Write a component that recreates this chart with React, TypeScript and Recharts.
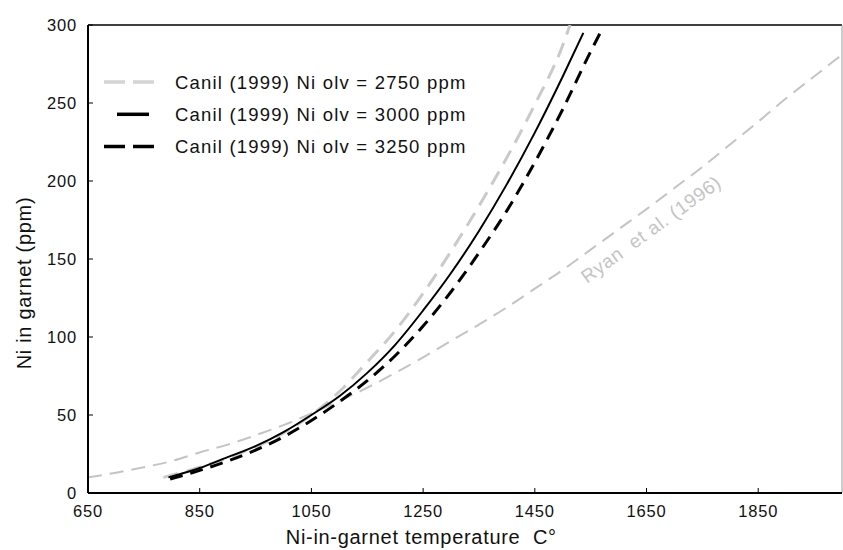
import React from "react";
import {
  Legend,
  Line,
  LineChart,
  ReferenceDot,
  ReferenceLine,
  XAxis,
  YAxis,
} from "recharts";

const FONT = '"Liberation Sans", Arial, Helvetica, sans-serif';

// Ni-in-garnet temperature (°C) vs Ni in garnet (ppm)
const RYAN_T = [
  650, 700, 750, 800, 850, 900, 950, 1000, 1050, 1100, 1150, 1200, 1250, 1300,
  1350, 1400, 1450, 1500, 1550, 1600, 1650, 1700, 1750, 1800, 1850, 1900, 1950, 2000,
];
const RYAN_NI = [
  10, 13, 16.5, 20.5, 26, 31, 37, 43.5, 51, 59, 67.5, 77, 87, 97.5, 108, 119, 131,
  143, 156, 169, 182, 195.5, 209, 223.5, 238, 253, 267, 281,
];

const CANIL_2750_T = [785, 850, 900, 950, 1000, 1050, 1100, 1150, 1200, 1250, 1300, 1350, 1400, 1450, 1500, 1513];
const CANIL_2750_NI = [10, 16.5, 22.5, 29.5, 38.5, 50, 65, 84, 104, 128, 155, 184, 215, 249, 287, 300];

const CANIL_3000_T = [794, 850, 900, 950, 1000, 1050, 1100, 1150, 1200, 1250, 1300, 1350, 1400, 1450, 1500, 1537];
const CANIL_3000_NI = [10, 16, 23, 30, 39, 50, 62, 77, 95, 117, 141, 168, 198, 231, 267, 295];

const CANIL_3250_T = [797, 850, 900, 950, 1000, 1050, 1100, 1150, 1200, 1250, 1300, 1350, 1400, 1450, 1500, 1550, 1570];
const CANIL_3250_NI = [9, 14.5, 20.5, 27.5, 36, 46.5, 58.5, 72, 88, 107, 129, 154, 181, 212, 246, 283, 297];

const X_TICKS = [650, 850, 1050, 1250, 1450, 1650, 1850];
const Y_TICKS = [0, 50, 100, 150, 200, 250, 300];

const toPoints = (ts: number[], nis: number[]) => ts.map((t, i) => ({ t, ni: nis[i] }));

const SERIES = [
  {
    key: "c2750",
    name: "Canil (1999) Ni olv = 2750 ppm",
    data: toPoints(CANIL_2750_T, CANIL_2750_NI),
    color: "#cacaca",
    width: 3,
    dash: "15 9",
    legendDash: "21 8",
  },
  {
    key: "c3000",
    name: "Canil (1999) Ni olv = 3000 ppm",
    data: toPoints(CANIL_3000_T, CANIL_3000_NI),
    color: "#000",
    width: 2,
    dash: undefined,
    legendDash: undefined,
  },
  {
    key: "c3250",
    name: "Canil (1999) Ni olv = 3250 ppm",
    data: toPoints(CANIL_3250_T, CANIL_3250_NI),
    color: "#000",
    width: 3,
    dash: "13 8",
    legendDash: "21 8",
  },
];

const ryanData = toPoints(RYAN_T, RYAN_NI);

const LegendBox = () => (
  <svg width={400} height={100}>
    {SERIES.map((s, i) => {
      const y = 16 + i * 32.3;
      const solid = !s.legendDash;
      return (
        <g key={s.key}>
          <line
            x1={solid ? 17 : 4}
            x2={solid ? 49 : 54}
            y1={y}
            y2={y}
            stroke={s.key === "c2750" ? "#d4d4d4" : s.color}
            strokeWidth={3.5}
            strokeDasharray={s.legendDash}
          />
          <text
            x={75}
            y={y}
            dominantBaseline="central"
            fontSize={18.5}
            fontFamily={FONT}
            style={{ letterSpacing: 1.2 }}
            fill="#111"
          >
            {s.name}
          </text>
        </g>
      );
    })}
  </svg>
);

const XTitle = ({ viewBox }: any) => (
  <text
    x={viewBox.x + viewBox.width * 0.442}
    y={viewBox.y + 51}
    textAnchor="middle"
    fontSize={20}
    fontFamily={FONT}
    style={{ letterSpacing: 0.7, whiteSpace: "pre" }}
    fill="#111"
  >
    {"Ni-in-garnet temperature  C°"}
  </text>
);

const YTitle = ({ viewBox }: any) => {
  const cx = 24;
  const cy = viewBox.y + viewBox.height / 2 + 24;
  return (
    <text
      x={cx}
      y={cy}
      transform={`rotate(-90 ${cx} ${cy})`}
      textAnchor="middle"
      dominantBaseline="central"
      fontSize={20}
      fontFamily={FONT}
      style={{ letterSpacing: 0.7 }}
      fill="#111"
    >
      Ni in garnet (ppm)
    </text>
  );
};

const RyanLabel = ({ viewBox }: any) => {
  const cx = viewBox.x + viewBox.width / 2;
  const cy = viewBox.y + viewBox.height / 2;
  return (
    <text
      x={cx}
      y={cy}
      transform={`rotate(-36 ${cx} ${cy})`}
      textAnchor="middle"
      dominantBaseline="central"
      fontSize={19}
      fontFamily={FONT}
      style={{ letterSpacing: 0.6, whiteSpace: "pre" }}
      fill="#c4c4c4"
    >
      {"Ryan  et al. (1996)"}
    </text>
  );
};

const tickStyle = { fontSize: 16.5, fill: "#111", fontFamily: FONT, letterSpacing: 0.8 };

export default function App() {
  return (
    <div style={{ position: "absolute", left: 0, top: 0, width: 843, height: 550, background: "#fff" }}>
      <LineChart width={843} height={550} margin={{ top: 25, right: 1, bottom: 0, left: 0 }}>
        <XAxis
          type="number"
          dataKey="t"
          domain={[650, 2000]}
          ticks={X_TICKS}
          allowDataOverflow
          height={57}
          tickSize={-5}
          tickMargin={17}
          tick={tickStyle}
          axisLine={{ stroke: "#000", strokeWidth: 2 }}
          tickLine={{ stroke: "#000", strokeWidth: 1 }}
          label={{ content: XTitle }}
        />
        <YAxis
          type="number"
          domain={[0, 300]}
          ticks={Y_TICKS}
          allowDataOverflow
          width={88}
          tickSize={-5}
          tickMargin={16}
          tick={tickStyle}
          axisLine={{ stroke: "#000", strokeWidth: 2 }}
          tickLine={{ stroke: "#000", strokeWidth: 1 }}
          label={{ content: YTitle }}
        />
        <ReferenceLine y={300} stroke="#000" strokeWidth={1.5} />
        <ReferenceLine x={2000} stroke="#999" strokeWidth={1} />
        <Line
          data={ryanData}
          dataKey="ni"
          name="Ryan et al. (1996)"
          type="monotone"
          stroke="#c4c4c4"
          strokeWidth={2}
          strokeDasharray="14 8"
          dot={false}
          legendType="none"
          isAnimationActive={false}
        />
        {SERIES.map((s) => (
          <Line
            key={s.key}
            data={s.data}
            dataKey="ni"
            name={s.name}
            type="monotone"
            stroke={s.color}
            strokeWidth={s.width}
            strokeDasharray={s.dash}
            dot={false}
            isAnimationActive={false}
          />
        ))}
        <ReferenceDot x={1658} y={169} r={1} fill="none" stroke="none" label={<RyanLabel />} />
        <Legend
          layout="vertical"
          align="center"
          verticalAlign="middle"
          wrapperStyle={{ left: 100, top: 66, width: 400, height: 100 }}
          content={LegendBox}
        />
      </LineChart>
    </div>
  );
}
